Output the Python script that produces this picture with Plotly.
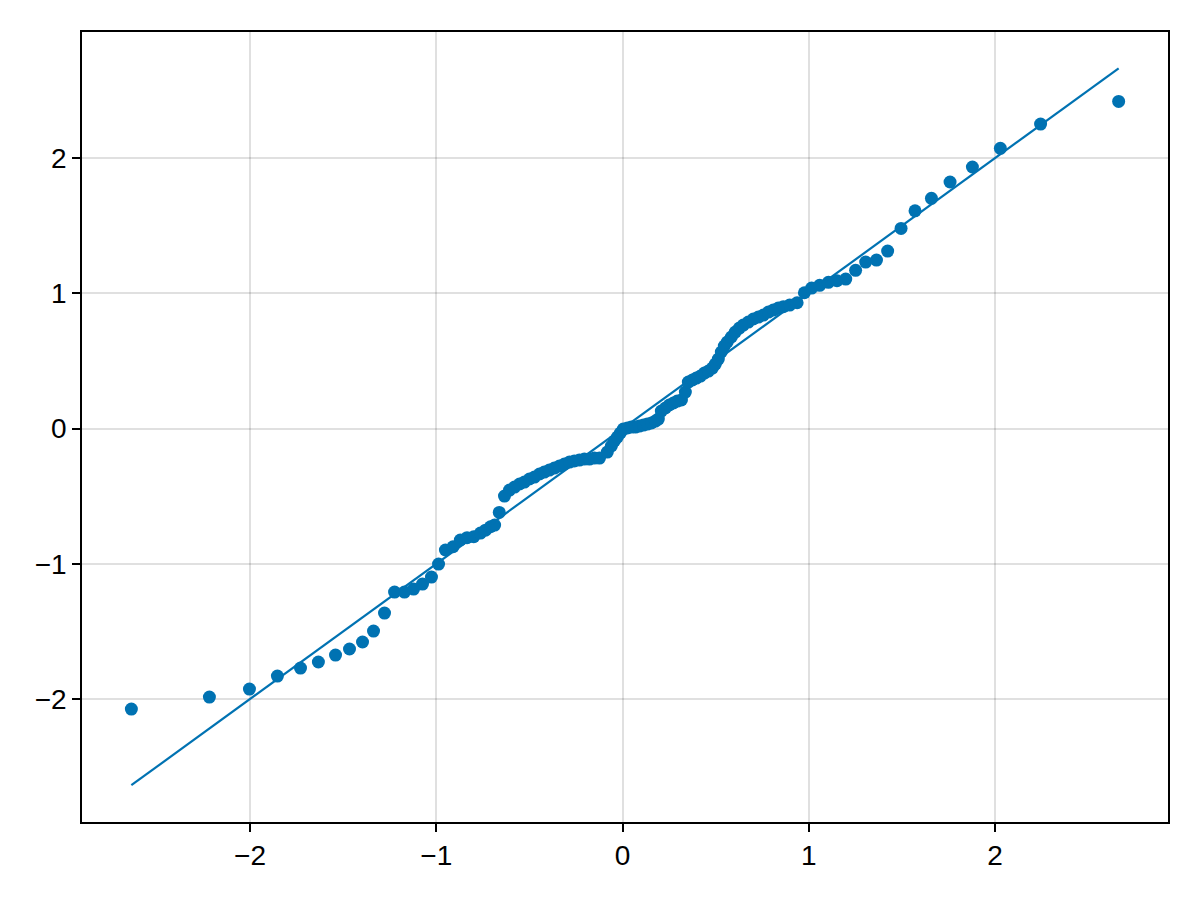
import plotly.graph_objects as go

# Theoretical quantiles (x) and sample quantiles (y)
x_q = [-2.637, -2.218, -2.003, -1.853, -1.729, -1.633, -1.541, -1.466, -1.396, -1.337,
       -1.278, -1.224, -1.171, -1.122, -1.074, -1.026, -0.988,
       -0.951, -0.910, -0.871, -0.835, -0.799, -0.763, -0.736, -0.709, -0.687, -0.662,
       -0.634, -0.607, -0.580, -0.553, -0.527, -0.500, -0.473, -0.446, -0.420, -0.393,
       -0.366, -0.339, -0.312, -0.285, -0.259, -0.232, -0.205, -0.178, -0.151, -0.124,
       -0.082, -0.060, -0.044, -0.028, -0.012, 0.004, 0.026, 0.047, 0.069, 0.090,
       0.112, 0.133, 0.155, 0.176, 0.192,
       0.208, 0.230, 0.251, 0.273, 0.294, 0.316, 0.337,
       0.353, 0.375, 0.396, 0.418, 0.439, 0.461, 0.482, 0.498, 0.514, 0.530,
       0.546, 0.562, 0.584, 0.605,
       0.627, 0.648, 0.675, 0.702, 0.729, 0.756, 0.783, 0.809, 0.836, 0.863,
       0.897, 0.937, 0.976, 1.015, 1.058, 1.105, 1.151, 1.198, 1.251, 1.305,
       1.363, 1.423, 1.495, 1.570, 1.658, 1.758, 1.878, 2.028, 2.244, 2.663]

y_q = [-2.074, -1.985, -1.926, -1.830, -1.771, -1.726, -1.675, -1.630, -1.578, -1.497,
       -1.364, -1.209, -1.209, -1.187, -1.150, -1.098, -1.002,
       -0.898, -0.874, -0.824, -0.807, -0.800, -0.773, -0.751, -0.726, -0.714, -0.620,
       -0.499, -0.455, -0.433, -0.410, -0.396, -0.373, -0.359, -0.336, -0.322, -0.307,
       -0.292, -0.277, -0.262, -0.248, -0.240, -0.233, -0.226, -0.226, -0.218, -0.218,
       -0.174, -0.129, -0.092, -0.063, -0.033, -0.004, 0.004, 0.011, 0.011, 0.018,
       0.026, 0.033, 0.041, 0.055, 0.070,
       0.129, 0.152, 0.174, 0.189, 0.203, 0.211, 0.270,
       0.344, 0.359, 0.373, 0.388, 0.410, 0.425, 0.447, 0.477, 0.514, 0.566,
       0.610, 0.640, 0.677, 0.713,
       0.743, 0.765, 0.787, 0.810, 0.824, 0.839, 0.861, 0.876, 0.891, 0.901,
       0.913, 0.930, 1.004, 1.039, 1.059, 1.081, 1.093, 1.105, 1.170, 1.231,
       1.246, 1.312, 1.480, 1.610, 1.702, 1.823, 1.934, 2.072, 2.251, 2.419]

tick_vals = [-2, -1, 0, 1, 2]

color = "rgb(0,114,178)"
line_x = [min(x_q), max(x_q)]
line_y = line_x  # identity reference line

fig = go.Figure()
fig.add_trace(go.Scatter(x=x_q, y=y_q, mode="markers",
                         marker=dict(color=color, size=13, line=dict(width=0)),
                         showlegend=False))
fig.add_trace(go.Scatter(x=line_x, y=line_y, mode="lines",
                         line=dict(color=color, width=2.2), showlegend=False))

axis_common = dict(
    showline=True, linecolor="black", linewidth=1.5, mirror=True,
    showgrid=True, gridcolor="rgba(0,0,0,0.12)", gridwidth=1.5,
    zeroline=False, ticks="outside", ticklen=8, tickwidth=1.5, tickcolor="black",
    tickvals=tick_vals, tickfont=dict(size=28, color="black"),
)

fig.update_layout(
    width=1200, height=900,
    paper_bgcolor="white", plot_bgcolor="white",
    margin=dict(l=74, r=40, t=24, b=86),
    font=dict(family="Liberation Sans, Arial, sans-serif", color="black"),
    xaxis=dict(range=[-2.902, 2.928], **axis_common),
    yaxis=dict(range=[-2.909, 2.932], **axis_common),
)

fig.write_html("out.html")
